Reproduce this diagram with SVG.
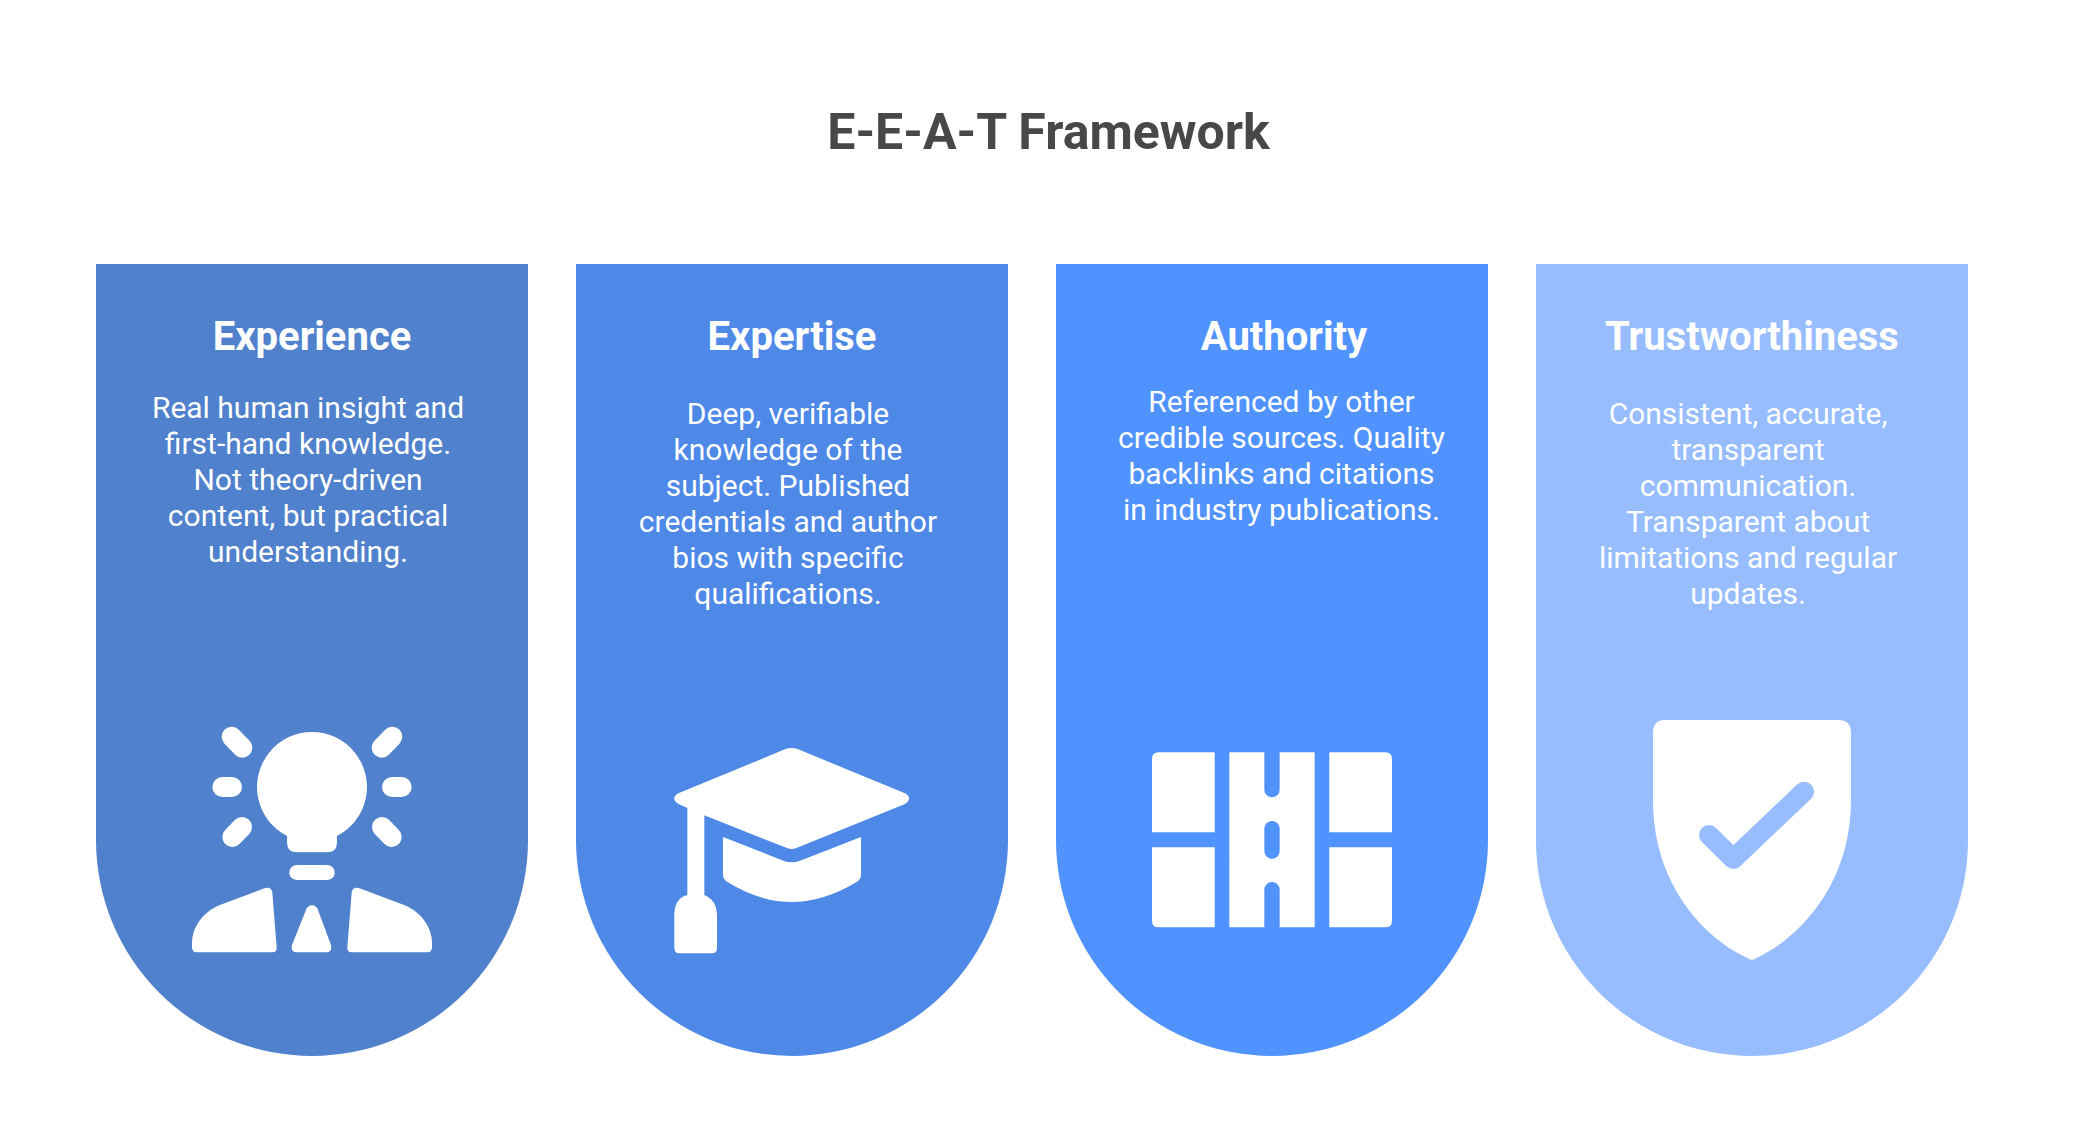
<svg xmlns="http://www.w3.org/2000/svg" width="2096" height="1128" viewBox="0 0 2096 1128">
<style>
text{font-family:Roboto,"Liberation Sans",sans-serif;fill:#fff;text-anchor:middle}
.t{font-size:50px;font-weight:700;fill:#484848}
.h{font-size:40px;font-weight:700}
.b{font-size:30px}
.w{fill:#fff}
</style>
<rect width="2096" height="1128" fill="#fff"/>
<text class="t" x="1048.5" y="148.5">E-E-A-T Framework</text>
<g id="experience">
<path fill="#5081CC" d="M96 264H528V840A216 216 0 0 1 96 840Z"/>
<text class="h" x="312" y="349.5">Experience</text>
<text class="b" x="308" y="417.5">Real human insight and</text>
<text class="b" x="308" y="453.5">first-hand knowledge.</text>
<text class="b" x="308" y="489.5">Not theory-driven</text>
<text class="b" x="308" y="525.5">content, but practical</text>
<text class="b" x="308" y="561.5">understanding.</text>
<g transform="translate(180 710) scale(.33333)">
<path class="w" d="M321 378A165 165 0 1 1 471 378V397Q471 427 441 427H351Q321 427 321 397Z"/>
<g style="stroke:#fff;stroke-width:60;stroke-linecap:round;fill:none"><path d="M155 80L187 113M127 231H156M157 381L186 351M637 80L605 113M665 231H636M635 381L606 351"/></g>
<rect class="w" x="328" y="465" width="136" height="45" rx="22"/>
<path class="w" d="M36 700C36 650 70 605 120 585L255 534Q275 530 277 548L290 712Q291 727 277 727H50Q36 727 36 712Z"/>
<path class="w" d="M756 700C756 650 722 605 672 585L537 534Q517 530 515 548L502 712Q501 727 515 727H742Q756 727 756 712Z"/>
<path class="w" d="M380 595Q396 575 412 595L453 705Q458 727 440 727H350Q330 727 336 705Z"/>
</g>
</g>
<g id="expertise">
<path fill="#4E89E8" d="M576 264H1008V840A216 216 0 0 1 576 840Z"/>
<text class="h" x="792" y="349.5">Expertise</text>
<text class="b" x="788" y="423.5">Deep, verifiable</text>
<text class="b" x="788" y="459.5">knowledge of the</text>
<text class="b" x="788" y="495.5">subject. Published</text>
<text class="b" x="788" y="531.5">credentials and author</text>
<text class="b" x="788" y="567.5">bios with specific</text>
<text class="b" x="788" y="603.5">qualifications.</text>
<g transform="translate(650 730) scale(.33333)">
<path class="w" d="M405 58Q425 50 445 58L765 190Q790 205 765 222L445 352Q425 362 405 352L163 256V495Q200 510 201 555V655Q201 670 186 670H88Q73 670 73 655V555Q73 505 112 495V234L85 222Q60 205 85 190Z"/>
<path class="w" d="M219 321L400 392Q425 402 450 392L633 321V435Q633 448 620 456Q520 516 425 516Q330 516 232 456Q219 448 219 435Z"/>
</g>
</g>
<g id="authority">
<path fill="#5093FF" d="M1056 264H1488V840A216 216 0 0 1 1056 840Z"/>
<text class="h" x="1284" y="349.5">Authority</text>
<text class="b" x="1281.5" y="411.5">Referenced by other</text>
<text class="b" x="1281.5" y="447.5">credible sources. Quality</text>
<text class="b" x="1281.5" y="483.5">backlinks and citations</text>
<text class="b" x="1281.5" y="519.5">in industry publications.</text>
<g transform="translate(1130 730) scale(.33333)">
<path class="w" d="M86 67H254V307H66V87Q66 67 86 67ZM66 352H254V592H86Q66 592 66 572ZM598 67H766Q786 67 786 87V307H598ZM598 352H786V572Q786 592 766 592H598Z"/>
<path class="w" fill-rule="evenodd" d="M298 67H403V179A23 23 0 0 0 449 179V67H554V592H449V479A23 23 0 0 0 403 479V592H298ZM403 296V363A23 23 0 0 0 449 363V296A23 23 0 0 0 403 296Z"/>
</g>
</g>
<g id="trustworthiness">
<path fill="#97BDFF" d="M1536 264H1968V840A216 216 0 0 1 1536 840Z"/>
<text class="h" x="1752" y="349.5">Trustworthiness</text>
<text class="b" x="1748" y="423.5">Consistent, accurate,</text>
<text class="b" x="1748" y="459.5">transparent</text>
<text class="b" x="1748" y="495.5">communication.</text>
<text class="b" x="1748" y="531.5">Transparent about</text>
<text class="b" x="1748" y="567.5">limitations and regular</text>
<text class="b" x="1748" y="603.5">updates.</text>
<g transform="translate(1630 700) scale(.33333)">
<path class="w" d="M105 60H625Q663 60 663 98V300C663 560 500 720 375 776Q366 782 357 776C230 720 69 560 69 300V98Q69 60 105 60Z"/>
<path d="M237 405L310 477L522 275" fill="none" stroke="#97BDFF" stroke-width="60" stroke-linecap="round" stroke-linejoin="round"/>
</g>
</g>
</svg>
